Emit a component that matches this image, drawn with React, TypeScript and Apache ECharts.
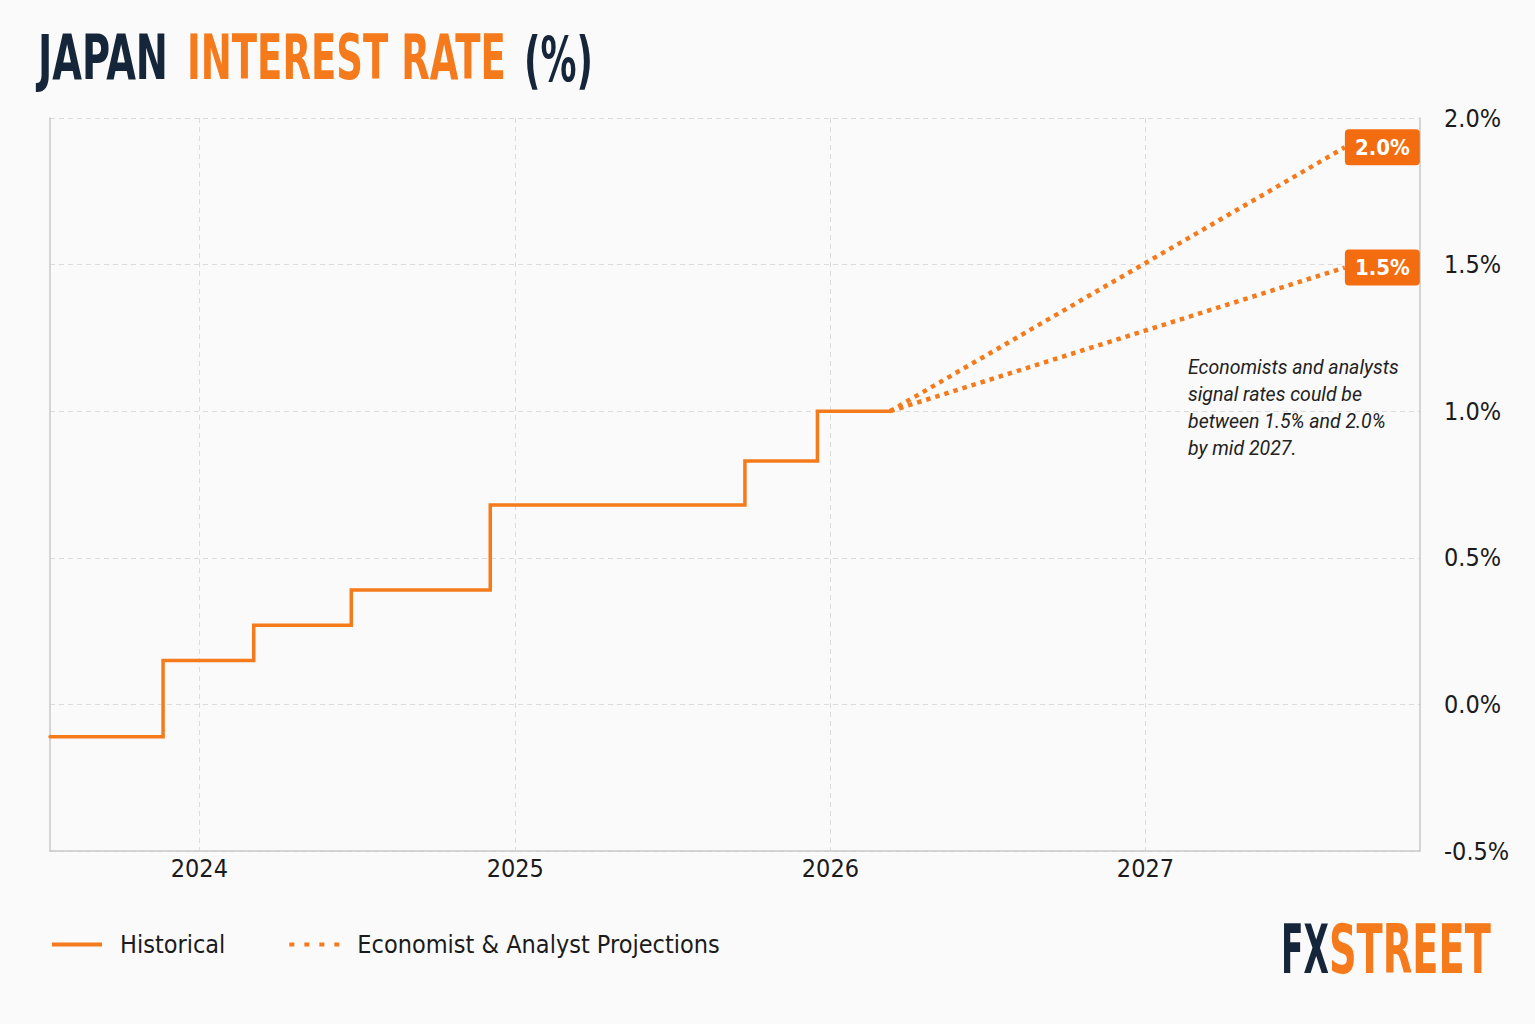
import React, { useEffect, useRef } from 'react';
import * as echarts from 'echarts';

// ---- Data ----
const historicalDates = ['2023-07-12', '2023-11-20', '2024-03-04', '2024-06-25', '2024-12-03', '2025-09-24', '2025-12-17', '2026-03-11'];
const historicalValues = [-0.11, 0.15, 0.27, 0.39, 0.68, 0.83, 1.0, 1.0];
const projectionDates = ['2026-03-11', '2027-08-20'];
const projectionHighValues = [1.0, 1.9];
const projectionLowValues = [1.0, 1.49];
const projectionLabels = ['2.0%', '1.5%'];
const yearTickDates = ['2024-01-01', '2025-01-01', '2026-01-01', '2027-01-01'];
const xRange = ['2023-07-12', '2027-11-15'];
const yRange = [-0.5, 2.0];
const annotationLines = [
  'Economists and analysts',
  'signal rates could be',
  'between 1.5% and 2.0%',
  'by mid 2027.',
];
const legendNames = ['Historical', 'Economist & Analyst Projections'];

const NAVY = '#15263a';
const ORANGE = '#f57a1c';
const LABEL_ORANGE = '#f36c10';
const TEXT = '#1b1b1b';
const FONT = '"Liberation Sans Narrow", "DejaVu Sans Condensed", "Roboto Condensed", Roboto, sans-serif';

function ts(d: string): number {
  const [y, m, day] = d.split('-').map(Number);
  return new Date(y, m - 1, day).getTime();
}

let measureCtx: CanvasRenderingContext2D | null = null;
function measure(text: string, font: string): number {
  if (!measureCtx) measureCtx = document.createElement('canvas').getContext('2d');
  if (!measureCtx) return 1;
  measureCtx.font = font;
  return measureCtx.measureText(text).width || 1;
}

function fittedText(text: string, x: number, cy: number, width: number, font: string, color: string) {
  return {
    type: 'text',
    x,
    y: cy,
    scaleX: width / measure(text, font),
    style: { text, font, fill: color, align: 'left', verticalAlign: 'middle' },
    silent: true,
  };
}

const SOLID_ICON = 'path://M0,0h50v4h-50z';
const DOTTED_ICON = 'path://M0,0h5v4h-5zM15,0h5v4h-5zM30,0h5v4h-5zM45,0h5v4h-5z';

export default function App() {
  const ref = useRef<HTMLDivElement>(null);

  useEffect(() => {
    document.body.style.margin = '0';
    if (!ref.current) return;
    const chart = echarts.init(ref.current, undefined, { renderer: 'svg' });

    const titleFont = `bold 63px ${FONT}`;
    const logoFont = `bold 68px ${FONT}`;

    const historical = historicalDates.map((d, i) => [ts(d), historicalValues[i]]);
    const high = projectionDates.map((d, i) => [ts(d), projectionHighValues[i]]);
    const low = projectionDates.map((d, i) => [ts(d), projectionLowValues[i]]);
    const yearTicks = yearTickDates.map(ts);

    const endLabel = (text: string) => ({
      show: true,
      formatter: text,
      distance: 0,
      backgroundColor: LABEL_ORANGE,
      borderRadius: 4,
      padding: [5, 10, 4, 10],
      color: '#ffffff',
      fontFamily: FONT,
      fontSize: 22,
      fontWeight: 'bold',
      lineHeight: 27,
    });

    const dotted = { color: ORANGE, width: 4.5, type: [4.5, 5] as number[], cap: 'butt' };

    chart.setOption({
      animation: false,
      backgroundColor: '#fafafa',
      grid: { left: 50, right: 115, top: 118, bottom: 173, containLabel: false },
      legend: {
        left: 47,
        top: 927,
        itemWidth: 50,
        itemHeight: 4,
        itemGap: 64,
        data: [
          { name: legendNames[0], icon: SOLID_ICON },
          { name: legendNames[1], icon: DOTTED_ICON },
        ],
        textStyle: { fontFamily: FONT, fontSize: 25, color: TEXT, padding: [0, 0, 0, 13] },
        selectedMode: false,
      },
      xAxis: {
        type: 'value',
        min: ts(xRange[0]),
        max: ts(xRange[1]),
        axisLine: { show: true, onZero: false, lineStyle: { color: '#c9c9c9', width: 1.5 } },
        axisTick: { show: false, customValues: yearTicks },
        axisLabel: {
          customValues: yearTicks,
          formatter: (v: number) => String(new Date(v).getFullYear()),
          fontFamily: FONT,
          fontSize: 25,
          color: TEXT,
          margin: 5,
        },
        splitLine: { show: true, lineStyle: { color: '#dcdcdc', type: [5, 4], width: 1 } },
      },
      yAxis: [
        {
          type: 'value',
          position: 'right',
          min: yRange[0],
          max: yRange[1],
          interval: 0.5,
          axisLine: { show: true, onZero: false, lineStyle: { color: '#c9c9c9', width: 1.5 } },
          axisTick: { show: false },
          axisLabel: {
            formatter: (v: number) => `${v.toFixed(1)}%`,
            fontFamily: FONT,
            fontSize: 25,
            color: TEXT,
            margin: 24,
          },
          splitLine: { show: true, lineStyle: { color: '#dcdcdc', type: [5, 4], width: 1 } },
        },
        {
          type: 'value',
          position: 'left',
          min: yRange[0],
          max: yRange[1],
          interval: 0.5,
          axisLine: { show: true, onZero: false, lineStyle: { color: '#c9c9c9', width: 1.5 } },
          axisTick: { show: false },
          axisLabel: { show: false },
          splitLine: { show: false },
        },
      ],
      series: [
        {
          name: legendNames[0],
          type: 'line',
          step: 'end',
          data: historical,
          symbol: 'none',
          lineStyle: { color: ORANGE, width: 3.5, cap: 'round', join: 'miter' },
          itemStyle: { color: ORANGE },
          z: 3,
        },
        {
          name: legendNames[1],
          type: 'line',
          data: high,
          symbol: 'none',
          lineStyle: dotted,
          itemStyle: { color: ORANGE },
          endLabel: endLabel(projectionLabels[0]),
          z: 2,
        },
        {
          name: legendNames[1],
          type: 'line',
          data: low,
          symbol: 'none',
          lineStyle: dotted,
          itemStyle: { color: ORANGE },
          endLabel: endLabel(projectionLabels[1]),
          z: 2,
        },
      ],
      graphic: [
        fittedText('JAPAN', 38, 57.5, 130, titleFont, NAVY),
        fittedText('INTEREST RATE', 187, 57.5, 319, titleFont, ORANGE),
        fittedText('(%)', 524, 59, 69, titleFont, NAVY),
        fittedText('FX', 1281, 949.5, 48, logoFont, NAVY),
        fittedText('STREET', 1329, 949.5, 162, logoFont, ORANGE),
        {
          type: 'text',
          x: 1188,
          y: 354,
          silent: true,
          style: {
            text: annotationLines.join('\n'),
            font: 'italic 19.5px Roboto, "Liberation Sans", sans-serif',
            fill: '#222222',
            lineHeight: 27,
            align: 'left',
            verticalAlign: 'top',
          },
        },
      ],
    });

    return () => chart.dispose();
  }, []);

  return <div ref={ref} style={{ width: 1535, height: 1024 }} />;
}
